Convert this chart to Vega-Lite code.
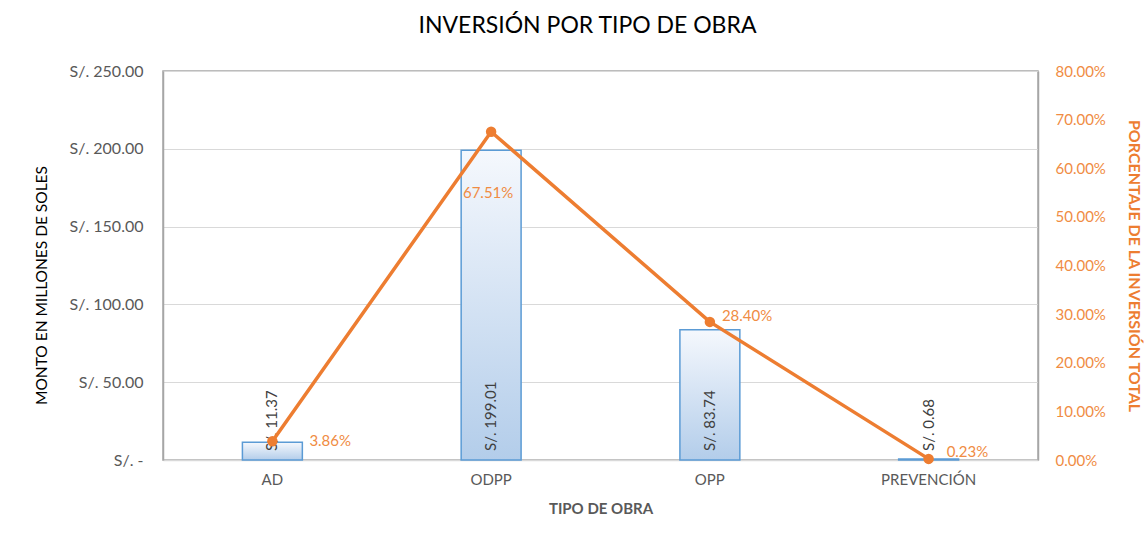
{
  "$schema": "https://vega.github.io/schema/vega-lite/v6.json",
  "autosize": {"type": "none"},
  "width": 875,
  "height": 389,
  "padding": {"left": 163, "top": 71, "right": 106, "bottom": 80},
  "background": "white",
  "config": {
    "font": "Lato",
    "view": {"stroke": "#A6A6A6", "strokeWidth": 1.5},
    "axis": {"labelFont": "Lato", "titleFont": "Lato"}
  },
  "title": {
    "text": "INVERSIÓN POR TIPO DE OBRA",
    "fontSize": 23,
    "fontWeight": "normal",
    "color": "#000000",
    "font": "Lato",
    "offset": 25,
    "dx": -13
  },
  "data": {
    "values": [
      {"tipo": "AD", "monto": 11.37, "pct": 0.0386},
      {"tipo": "ODPP", "monto": 199.01, "pct": 0.6751},
      {"tipo": "OPP", "monto": 83.74, "pct": 0.2840},
      {"tipo": "PREVENCIÓN", "monto": 0.68, "pct": 0.0023}
    ]
  },
  "encoding": {
    "x": {
      "field": "tipo",
      "type": "nominal",
      "sort": null,
      "scale": {"paddingInner": 0.726, "paddingOuter": 0.363},
      "axis": {
        "title": "TIPO DE OBRA",
        "titleFontSize": 15,
        "titleFontWeight": "bold",
        "titleColor": "#595959",
        "titlePadding": 14,
        "labelAngle": 0,
        "labelFontSize": 15,
        "labelColor": "#595959",
        "labelPadding": 12,
        "ticks": false,
        "domainColor": "#D9D9D9",
        "domainWidth": 1.5
      }
    }
  },
  "layer": [
    {
      "layer": [
        {
          "mark": {
            "type": "bar",
            "color": {
              "gradient": "linear",
              "x1": 0, "y1": 0, "x2": 0, "y2": 1,
              "stops": [
                {"offset": 0, "color": "#F5F8FD"},
                {"offset": 1, "color": "#B3CDEA"}
              ]
            },
            "stroke": "#5B9BD5",
            "strokeWidth": 1.5
          },
          "encoding": {
            "y": {
              "field": "monto",
              "type": "quantitative",
              "scale": {"domain": [0, 250], "nice": false},
              "axis": {
                "title": "MONTO EN MILLONES DE SOLES",
                "titleFontSize": 15.5,
                "titleFontWeight": "normal",
                "titleColor": "#000000",
                "titlePadding": 20,
                "titleY": 214,
                "values": [0, 50, 100, 150, 200, 250],
                "labelExpr": "datum.value == 0 ? 'S/. -' : 'S/. ' + format(datum.value, '.2f')",
                "labelFontSize": 16,
                "labelColor": "#595959",
                "labelPadding": 20,
                "ticks": false,
                "domainColor": "#A6A6A6",
                "domainWidth": 1.5,
                "gridColor": "#D9D9D9",
                "gridWidth": 1.2
              }
            }
          }
        },
        {
          "transform": [
            {"calculate": "'S/. ' + format(datum.monto, '.2f')", "as": "lbl"}
          ],
          "mark": {
            "type": "text",
            "angle": 270,
            "align": "left",
            "baseline": "middle",
            "dx": 9,
            "fontSize": 15,
            "color": "#404040"
          },
          "encoding": {
            "y": {"datum": 0, "type": "quantitative"},
            "text": {"field": "lbl", "type": "nominal"}
          }
        }
      ]
    },
    {
      "layer": [
        {
          "mark": {"type": "line", "color": "#ED7D31", "strokeWidth": 3.5},
          "encoding": {
            "y": {
              "field": "pct",
              "type": "quantitative",
              "scale": {"domain": [0, 0.8], "nice": false},
              "axis": {
                "orient": "right",
                "title": "PORCENTAJE DE LA INVERSIÓN TOTAL",
                "titleFontSize": 16,
                "titleFontWeight": "bold",
                "titleColor": "#ED7D31",
                "titlePadding": 20,
                "values": [0, 0.1, 0.2, 0.3, 0.4, 0.5, 0.6, 0.7, 0.8],
                "format": ".2%",
                "labelFontSize": 15,
                "labelColor": "#F08C43",
                "labelPadding": 17,
                "ticks": false,
                "domainColor": "#A6A6A6",
                "domainWidth": 1.5,
                "grid": false
              }
            }
          }
        },
        {
          "mark": {"type": "point", "filled": true, "opacity": 1, "size": 110, "color": "#ED7D31"},
          "encoding": {"y": {"field": "pct", "type": "quantitative"}}
        },
        {
          "transform": [{"filter": "datum.tipo == 'AD'"}],
          "mark": {"type": "text", "align": "left", "baseline": "middle", "dx": 37, "dy": 0, "fontSize": 15, "color": "#F08C43"},
          "encoding": {
            "y": {"field": "pct", "type": "quantitative"},
            "text": {"field": "pct", "type": "quantitative", "format": ".2%"}
          }
        },
        {
          "transform": [{"filter": "datum.tipo == 'ODPP'"}],
          "mark": {"type": "text", "align": "center", "baseline": "middle", "dx": -3, "dy": 61, "fontSize": 15, "color": "#F08C43"},
          "encoding": {
            "y": {"field": "pct", "type": "quantitative"},
            "text": {"field": "pct", "type": "quantitative", "format": ".2%"}
          }
        },
        {
          "transform": [{"filter": "datum.tipo == 'OPP'"}],
          "mark": {"type": "text", "align": "left", "baseline": "middle", "dx": 12, "dy": -6, "fontSize": 15, "color": "#F08C43"},
          "encoding": {
            "y": {"field": "pct", "type": "quantitative"},
            "text": {"field": "pct", "type": "quantitative", "format": ".2%"}
          }
        },
        {
          "transform": [{"filter": "datum.tipo == 'PREVENCIÓN'"}],
          "mark": {"type": "text", "align": "left", "baseline": "middle", "dx": 18, "dy": -7, "fontSize": 15, "color": "#F08C43"},
          "encoding": {
            "y": {"field": "pct", "type": "quantitative"},
            "text": {"field": "pct", "type": "quantitative", "format": ".2%"}
          }
        }
      ]
    }
  ],
  "resolve": {"scale": {"y": "independent"}}
}
